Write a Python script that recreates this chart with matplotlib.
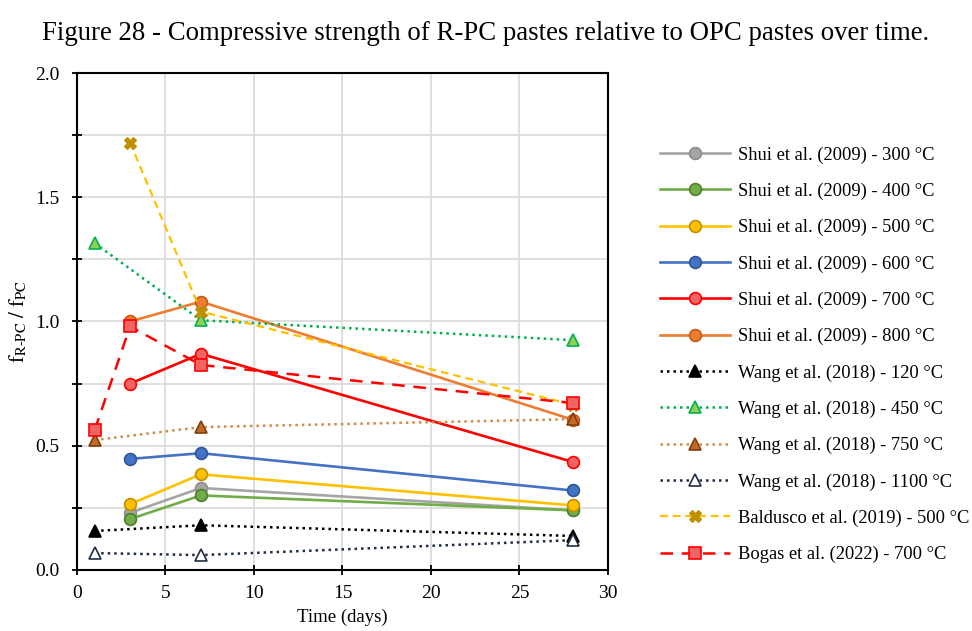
import matplotlib
matplotlib.use("Agg")
import matplotlib.pyplot as plt
from matplotlib.ticker import MultipleLocator, FuncFormatter

plt.rcParams["font.family"] = ["Liberation Serif", "DejaVu Serif"]
plt.rcParams["mathtext.fontset"] = "stix"

# Curing ages (days) and strength ratios f_R-PC / f_PC
shui_days = [3, 7, 28]
shui_300 = [0.23, 0.33, 0.24]
shui_400 = [0.205, 0.30, 0.24]
shui_500 = [0.265, 0.385, 0.26]
shui_600 = [0.447, 0.47, 0.32]
shui_700 = [0.75, 0.87, 0.435]
shui_800 = [1.00, 1.08, 0.605]

wang_days = [1, 7, 28]
wang_120 = [0.157, 0.18, 0.137]
wang_450 = [1.315, 1.005, 0.925]
wang_750 = [0.523, 0.575, 0.607]
wang_1100 = [0.068, 0.06, 0.12]

baldusco_days = [3, 7, 28]
baldusco_500 = [1.72, 1.04, 0.665]

bogas_days = [1, 3, 7, 28]
bogas_700 = [0.563, 0.98, 0.825, 0.672]

labels = [
    "Shui et al. (2009) - 300 °C",
    "Shui et al. (2009) - 400 °C",
    "Shui et al. (2009) - 500 °C",
    "Shui et al. (2009) - 600 °C",
    "Shui et al. (2009) - 700 °C",
    "Shui et al. (2009) - 800 °C",
    "Wang et al. (2018) - 120 °C",
    "Wang et al. (2018) - 450 °C",
    "Wang et al. (2018) - 750 °C",
    "Wang et al. (2018) - 1100 °C",
    "Baldusco et al. (2019) - 500 °C",
    "Bogas et al. (2022) - 700 °C",
]

fig = plt.figure(figsize=(9.72, 6.31), dpi=100)
ax = fig.add_axes([0.0792, 0.0967, 0.5463, 0.7876])

dotted = (0, (1, 1.6))
solid_kw = dict(lw=1.9, marker="o", ms=8.5, mew=1.2)
dot_kw = dict(lw=1.8, ls=dotted, marker="^", ms=8.5, mew=1.2)

ax.plot(shui_days, shui_300, color="#a5a5a5", mfc="#a5a5a5", mec="#8c8c8c", label=labels[0], **solid_kw)
ax.plot(shui_days, shui_400, color="#70ad47", mfc="#70ad47", mec="#507e32", label=labels[1], **solid_kw)
ax.plot(shui_days, shui_500, color="#ffc000", mfc="#ffc000", mec="#bf9000", label=labels[2], **solid_kw)
ax.plot(shui_days, shui_600, color="#4472c4", mfc="#4472c4", mec="#2f5597", label=labels[3], **solid_kw)
ax.plot(shui_days, shui_700, color="#ff0000", mfc="#f06464", mec="#ff0000", label=labels[4], **solid_kw)
ax.plot(shui_days, shui_800, color="#ed7d31", mfc="#ed7d31", mec="#c55a11", label=labels[5], **solid_kw)

ax.plot(wang_days, wang_120, color="#000000", mfc="#000000", mec="#000000", label=labels[6], **dot_kw)
ax.plot(wang_days, wang_450, color="#00b050", mfc="#92d050", mec="#00b050", label=labels[7], **dot_kw)
ax.plot(wang_days, wang_750, color="#d08b45", mfc="#c06a28", mec="#843c0c", label=labels[8], **dot_kw)
ax.plot(wang_days, wang_1100, color="#1f2d44", mfc="#ffffff", mec="#1f2d44", label=labels[9], **dot_kw)

ax.plot(baldusco_days, baldusco_500, color="#ffc000", lw=1.6, ls=(0, (3.5, 2.2)),
        marker="X", ms=9, mfc="#bf9000", mec="#bf9000", mew=0.8, label=labels[10])
ax.plot(bogas_days, bogas_700, color="#ff0000", lw=1.8, ls=(0, (5, 3.5)),
        marker="s", ms=8.5, mfc="#f06464", mec="#ff0000", mew=1.2, label=labels[11])

ax.set_xlim(0, 30)
ax.set_ylim(0, 2.0)
ax.xaxis.set_major_locator(MultipleLocator(5))
ax.yaxis.set_major_locator(MultipleLocator(0.25))
ax.yaxis.set_major_formatter(FuncFormatter(lambda v, p: f"{v:.1f}" if abs((v * 2) - round(v * 2)) < 1e-6 else ""))
ax.grid(True, color="#d9d9d9", lw=1.2)
ax.set_axisbelow(True)
for s in ax.spines.values():
    s.set_linewidth(1.5)
    s.set_color("black")
ax.tick_params(axis="both", direction="inout", length=7, width=1.3, labelsize=14)
ax.tick_params(axis="y", pad=9)
ax.tick_params(axis="x", pad=7)

ax.set_xlabel("Time (days)", fontsize=13.5, labelpad=5)
ax.set_ylabel(r"$\mathrm{f}_{\mathrm{R{\text{-}}PC}}\ /\ \mathrm{f}_{\mathrm{PC}}$", fontsize=15, labelpad=4)

fig.suptitle("Figure 28 - Compressive strength of R-PC pastes relative to OPC pastes over time.",
             x=0.5, y=0.966, fontsize=19.3)

fig.legend(loc="upper left", bbox_to_anchor=(0.671, 0.78), frameon=False,
           fontsize=13.3, handlelength=3.8, handletextpad=0.45, labelspacing=1.03,
           borderaxespad=0)

fig.savefig("out.png", dpi=100)
